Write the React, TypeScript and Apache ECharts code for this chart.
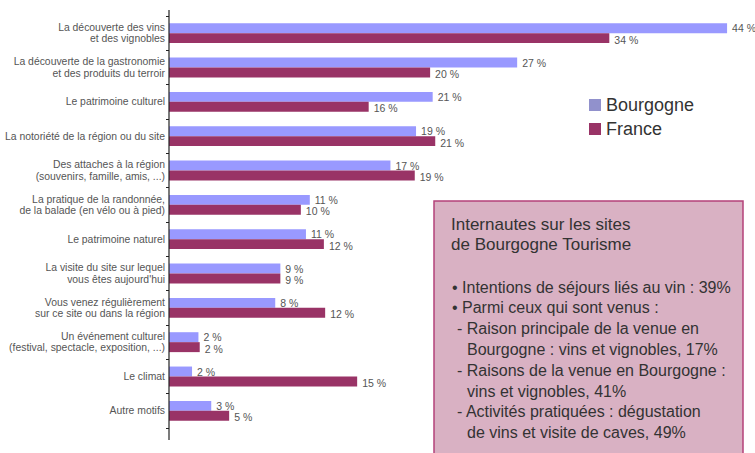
import React, { useEffect, useRef } from "react";
import * as echarts from "echarts";

const categories = [
  "La découverte des vins\net des vignobles",
  "La découverte de la gastronomie\net des produits du terroir",
  "Le patrimoine culturel",
  "La notoriété de la région ou du site",
  "Des attaches à la région\n(souvenirs, famille, amis, ...)",
  "La pratique de la randonnée,\nde la balade (en vélo ou à pied)",
  "Le patrimoine naturel",
  "La visite du site sur lequel\nvous êtes aujourd'hui",
  "Vous venez régulièrement\nsur ce site ou dans la région",
  "Un événement culturel\n(festival, spectacle, exposition, ...)",
  "Le climat",
  "Autre motifs",
];

const bourgogne = [43.6, 27.2, 20.6, 19.3, 17.3, 11.0, 10.7, 8.7, 8.3, 2.3, 1.8, 3.3];
const france = [34.4, 20.4, 15.6, 20.8, 19.2, 10.3, 12.1, 8.7, 12.2, 2.4, 14.7, 4.7];

const seriesNames = ["Bourgogne", "France"];

const boxTitle = ["Internautes sur les sites", "de Bourgogne Tourisme"];
const boxLines = [
  { indent: 0, text: "• Intentions de séjours liés au vin : 39%" },
  { indent: 0, text: "• Parmi ceux qui sont venus :" },
  { indent: 1, text: "- Raison principale de la venue en" },
  { indent: 2, text: "Bourgogne : vins et vignobles, 17%" },
  { indent: 1, text: "- Raisons de la venue en Bourgogne :" },
  { indent: 2, text: "vins et vignobles, 41%" },
  { indent: 1, text: "- Activités pratiquées : dégustation" },
  { indent: 2, text: "de vins et visite de caves, 49%" },
];

const FONT = "'Liberation Sans', Arial, Helvetica, sans-serif";

export default function App() {
  const ref = useRef<HTMLDivElement>(null);

  useEffect(() => {
    document.body.style.margin = "0";
    if (!ref.current) return;
    const chart = echarts.init(ref.current, null, { renderer: "svg" });

    const indentX = [452, 457, 467];
    const textEls: any[] = [];
    boxTitle.forEach((t, i) => {
      textEls.push({
        type: "text",
        x: 451,
        y: 224 + i * 20.8,
        style: { text: t, font: `17px ${FONT}`, fill: "#333", verticalAlign: "middle" },
        z: 10,
      });
    });
    boxLines.forEach((l, i) => {
      textEls.push({
        type: "text",
        x: indentX[l.indent],
        y: 287 + i * 20.8,
        style: { text: l.text, font: `16px ${FONT}`, fill: "#333", verticalAlign: "middle" },
        z: 10,
      });
    });

    const labelFmt = (p: any) => `${Math.round(p.value)} %`;
    const valueLabel = (dy: number) => ({
      show: true,
      position: "right",
      distance: 5,
      offset: [0, dy],
      formatter: labelFmt,
      fontSize: 10.5,
      lineHeight: 9,
      color: "#555",
      fontFamily: FONT,
    });

    chart.setOption({
      animation: false,
      textStyle: { fontFamily: FONT },
      grid: { left: 169, top: 16, width: 576, height: 412, containLabel: false },
      legend: {
        orient: "vertical",
        left: 584,
        top: 91,
        itemWidth: 12,
        itemHeight: 12,
        itemGap: 6,
        icon: "rect",
        textStyle: { fontSize: 18, color: "#333", fontFamily: FONT },
        data: [
          { name: seriesNames[0], itemStyle: { color: "#9191cc" } },
          { name: seriesNames[1], itemStyle: { color: "#993366" } },
        ],
      },
      xAxis: { type: "value", min: 0, max: 45, show: false },
      yAxis: {
        type: "category",
        inverse: true,
        data: categories,
        axisLine: { show: false },
        axisTick: { show: true, length: 3, lineStyle: { color: "#222" } },
        axisLabel: {
          margin: 4,
          fontSize: 10.4,
          lineHeight: 11.5,
          color: "#555",
          fontFamily: FONT,
        },
      },
      series: [
        {
          name: seriesNames[0],
          type: "bar",
          data: bourgogne,
          barGap: "0%",
          barCategoryGap: "42%",
          itemStyle: { color: "#9999ff" },
          label: valueLabel(0),
        },
        {
          name: seriesNames[1],
          type: "bar",
          data: france,
          barGap: "0%",
          barCategoryGap: "42%",
          itemStyle: { color: "#993366" },
          label: valueLabel(1.5),
        },
      ],
      graphic: [
        {
          type: "line",
          shape: { x1: 169, y1: 10, x2: 169, y2: 440 },
          style: { stroke: "#222", lineWidth: 1.2 },
          z: 5,
        },
        {
          type: "rect",
          shape: { x: 434, y: 201, width: 309, height: 262 },
          style: { fill: "#d9b1c3", stroke: "#b4427a", lineWidth: 1.5 },
          z: 9,
        },
        ...textEls,
      ],
    });

    return () => chart.dispose();
  }, []);

  return <div ref={ref} style={{ width: 755, height: 453 }} />;
}
